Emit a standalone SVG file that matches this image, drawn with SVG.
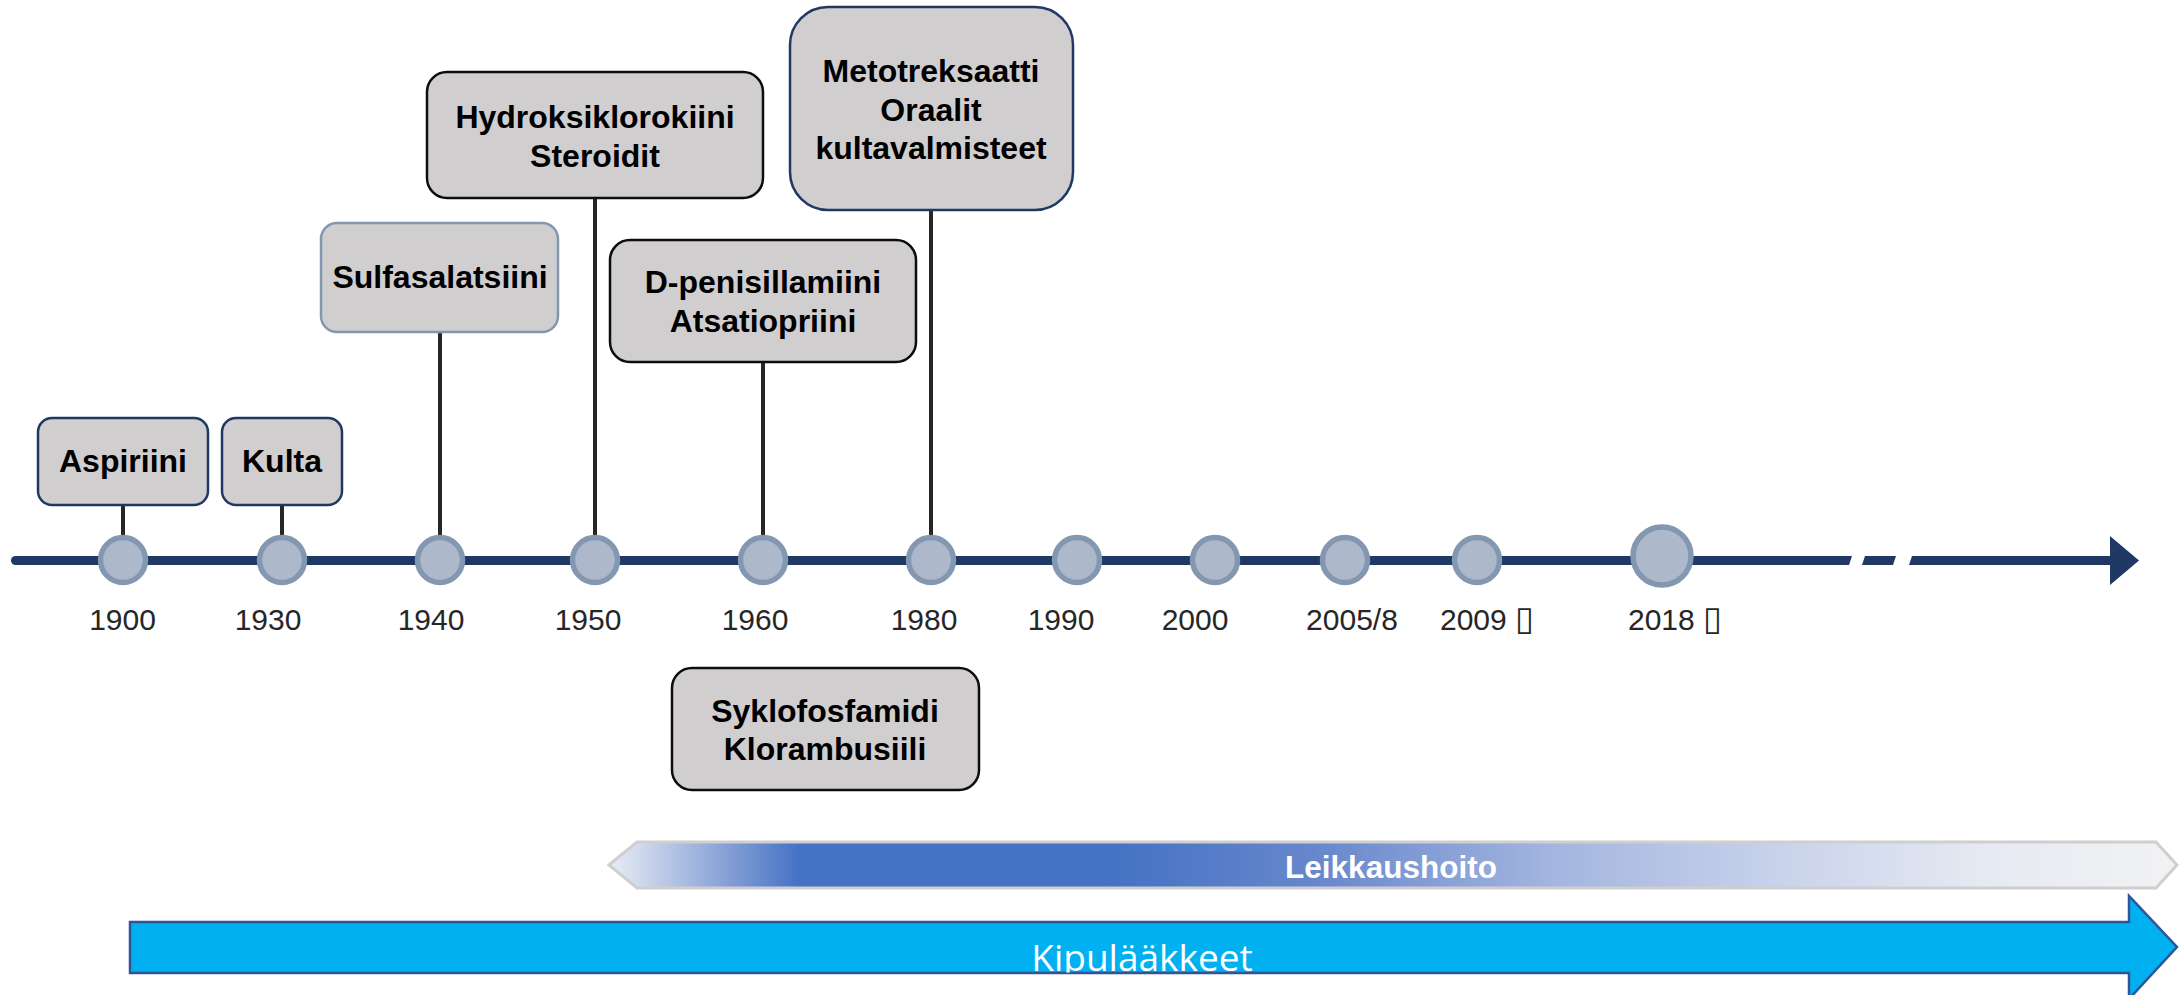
<svg xmlns="http://www.w3.org/2000/svg" width="2179" height="995" viewBox="0 0 2179 995">
<defs>
<style>
.box{fill:#D0CECE;stroke-width:2.5}
.lbl{font-family:"Liberation Sans",Arial,sans-serif;font-weight:bold;font-size:32px;fill:#000;text-anchor:middle}
.yr{font-family:"Liberation Sans",Arial,sans-serif;font-size:30px;fill:#262626}
.tofu{font-family:"DejaVu Sans",sans-serif;font-size:34px}
.stem{stroke:#262626;stroke-width:4;fill:none}
.dot{fill:#ADB9CA;stroke:#8497B0;stroke-width:5.5}
</style>
<linearGradient id="lg" gradientUnits="userSpaceOnUse" x1="609" y1="0" x2="2177" y2="0">
<stop offset="0" stop-color="#E9EDF5"/>
<stop offset="0.04" stop-color="#B4C4E4"/>
<stop offset="0.08" stop-color="#7F9BD4"/>
<stop offset="0.122" stop-color="#4472C4"/>
<stop offset="0.32" stop-color="#4472C4"/>
<stop offset="0.45" stop-color="#6787CC"/>
<stop offset="0.6" stop-color="#A3B5DF"/>
<stop offset="0.75" stop-color="#C9D3EB"/>
<stop offset="0.88" stop-color="#E6EAF3"/>
<stop offset="1" stop-color="#F2F2F2"/>
</linearGradient>
<clipPath id="kc"><rect x="130" y="922" width="2000" height="50.5"/></clipPath>
</defs>
<rect width="2179" height="995" fill="#fff"/>

<g id="connectors">
<path class="stem" d="M123 505V536M282 505V536M440 332V536M595 198V536M763 362V536M931 210V536"/>
</g>

<g id="timeline">
<path d="M15.5 556H1852L1849 565H15.5A4.5 4.5 0 0 1 15.5 556Z" fill="#1F3864"/>
<path d="M1865 556H1896L1893 565H1862Z" fill="#1F3864"/>
<path d="M1912 556H2110V536L2139 560.5L2110 585V565H1909Z" fill="#1F3864"/>
</g>

<g id="points">
<circle class="dot" cx="123" cy="560" r="22.5"/>
<circle class="dot" cx="282" cy="560" r="22.5"/>
<circle class="dot" cx="440" cy="560" r="22.5"/>
<circle class="dot" cx="595" cy="560" r="22.5"/>
<circle class="dot" cx="763" cy="560" r="22.5"/>
<circle class="dot" cx="931" cy="560" r="22.5"/>
<circle class="dot" cx="1077" cy="560" r="22.5"/>
<circle class="dot" cx="1215" cy="560" r="22.5"/>
<circle class="dot" cx="1345" cy="560" r="22.5"/>
<circle class="dot" cx="1477" cy="560" r="22.5"/>
<circle class="dot" cx="1662" cy="556" r="29" stroke-width="6"/>
</g>

<g id="years">
<text class="yr" x="122.5" y="630" text-anchor="middle">1900</text>
<text class="yr" x="268" y="630" text-anchor="middle">1930</text>
<text class="yr" x="431" y="630" text-anchor="middle">1940</text>
<text class="yr" x="588" y="630" text-anchor="middle">1950</text>
<text class="yr" x="755" y="630" text-anchor="middle">1960</text>
<text class="yr" x="924" y="630" text-anchor="middle">1980</text>
<text class="yr" x="1061" y="630" text-anchor="middle">1990</text>
<text class="yr" x="1195" y="630" text-anchor="middle">2000</text>
<text class="yr" x="1352" y="630" text-anchor="middle">2005/8</text>
<text class="yr" x="1440" y="630">2009 <tspan class="tofu">▯</tspan></text>
<text class="yr" x="1628" y="630">2018 <tspan class="tofu">▯</tspan></text>
</g>

<g id="n-aspiriini">
<rect class="box" x="38" y="418" width="170" height="87" rx="14" stroke="#203864"/>
<text class="lbl" x="123" y="472" font-size="30">Aspiriini</text>
</g>
<g id="n-kulta">
<rect class="box" x="222" y="418" width="120" height="87" rx="14" stroke="#203864"/>
<text class="lbl" x="282" y="472" font-size="30">Kulta</text>
</g>
<g id="n-sulfasalatsiini">
<rect class="box" x="321" y="223" width="237" height="109" rx="16" stroke="#8497B0"/>
<text class="lbl" x="440" y="288">Sulfasalatsiini</text>
</g>
<g id="n-hydroksiklorokiini">
<rect class="box" x="427" y="72" width="336" height="126" rx="20" stroke="#0D0D0D"/>
<text class="lbl" x="595" y="128">Hydroksiklorokiini</text>
<text class="lbl" x="595" y="167">Steroidit</text>
</g>
<g id="n-dpenisillamiini">
<rect class="box" x="610" y="240" width="306" height="122" rx="20" stroke="#0D0D0D"/>
<text class="lbl" x="763" y="293">D-penisillamiini</text>
<text class="lbl" x="763" y="332">Atsatiopriini</text>
</g>
<g id="n-metotreksaatti">
<rect class="box" x="790" y="7" width="283" height="203" rx="38" stroke="#203864" stroke-width="3"/>
<text class="lbl" x="931" y="81.5">Metotreksaatti</text>
<text class="lbl" x="931" y="120.5">Oraalit</text>
<text class="lbl" x="931" y="159">kultavalmisteet</text>
</g>
<g id="n-syklofosfamidi">
<rect class="box" x="672" y="668" width="307" height="122" rx="20" stroke="#0D0D0D"/>
<text class="lbl" x="825" y="722">Syklofosfamidi</text>
<text class="lbl" x="825" y="760">Klorambusiili</text>
</g>

<g id="n-leikkaushoito">
<path d="M609 865L637 842H2156L2177 865L2156 888H637Z" fill="url(#lg)" stroke="#D0CECE" stroke-width="3"/>
<text x="1391" y="878" font-family="'Liberation Sans',Arial,sans-serif" font-weight="bold" font-size="31.5" fill="#fff" text-anchor="middle">Leikkaushoito</text>
</g>

<g id="n-kipulaakkeet">
<path d="M130 922H2129V896L2177 947L2129 999V973H130Z" fill="#00B0F0" stroke="#2F5597" stroke-width="2.5"/>
<text x="1142" y="971" clip-path="url(#kc)" font-family="'Open Sans','Noto Sans',sans-serif" font-size="37" fill="#fff" text-anchor="middle">Kipulääkkeet</text>
</g>
</svg>
